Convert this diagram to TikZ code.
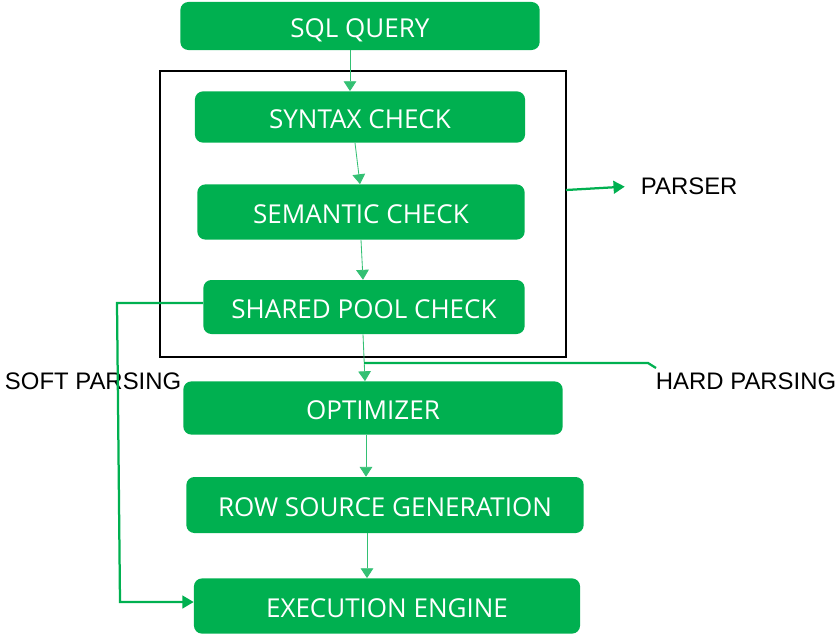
\documentclass[tikz,border=0pt]{standalone}
\usepackage{fontspec}
\setmainfont{Liberation Sans}
\newfontfamily\boxfont{Open Sans}
\usetikzlibrary{arrows.meta,positioning,calc}
\definecolor{stepgreen}{HTML}{00B050}

\begin{document}
\begin{tikzpicture}[x=0.025cm, y=-0.025cm,
    box/.style={fill=stepgreen, rounded corners=0.2cm, text=white,
                font=\boxfont\fontsize{18.5}{21}\selectfont, inner sep=0pt,
                text height=17pt, text depth=0pt},
    flow/.style={stepgreen!80, line width=0.6pt, -{Triangle[length=7pt,width=9pt]}},
    side/.style={stepgreen, line width=1.6pt},
    lbl/.style={font=\fontsize{17}{20}\selectfont, anchor=west}]
  \useasboundingbox (0,0) rectangle (840,634);

  \node[box, minimum width=8.98cm, minimum height=1.2cm]  (sql) at (360,26)  {SQL QUERY};
  \node[box, minimum width=8.25cm, minimum height=1.28cm] (syn) at (360,117) {SYNTAX CHECK};
  \node[box, minimum width=8.18cm, minimum height=1.38cm] (sem) at (361,212) {SEMANTIC CHECK};
  \node[box, minimum width=8.03cm, minimum height=1.35cm] (shp) at (364,307) {SHARED POOL CHECK};
  \node[box, minimum width=9.48cm, minimum height=1.33cm] (opt) at (373,408) {OPTIMIZER};
  \node[box, minimum width=9.93cm, minimum height=1.4cm]  (rsg) at (385,505) {ROW SOURCE GENERATION};
  \node[box, minimum width=9.65cm, minimum height=1.38cm] (exe) at (387,606) {EXECUTION ENGINE};

  % parser frame
  \draw[line width=1.6pt] (160,71) rectangle (566,357);
  \coordinate (pr) at (566,190);

  \node[lbl] (parser) at (636,186) {PARSER};
  \node[lbl] (soft)   at (0,381)   {SOFT PARSING};
  \node[lbl] (hard)   at (651,381) {HARD PARSING};

  \draw[flow] (sql.south -| 350,0) -- (syn.north -| 350,0);
  \draw[flow] (syn.south -| 355,0) -- (sem.north -| 360,0);
  \draw[flow] (sem.south -| 361,0) -- (shp.north -| 363,0);
  \draw[flow] (shp.south -| 363,0) -- (opt.north -| 365,0);
  \draw[flow] (opt.south -| 366,0) -- (rsg.north -| 366,0);
  \draw[flow] (rsg.south -| 367,0) -- (exe.north -| 367,0);

  % parser / hard / soft
  \draw[side, -{Triangle[length=8pt,width=9pt]}, shorten >=8pt] (pr) -- (parser.west);
  \coordinate (hp) at (364,363);
  \draw[side] (hp) -- (648,363) -- (656,368);
  \draw[side, -{Triangle[length=8pt,width=9pt]}]
    (shp.west |- 0,303) -- (117,303) -- (120,602) -- (exe.west |- 0,602);
\end{tikzpicture}
\end{document}
